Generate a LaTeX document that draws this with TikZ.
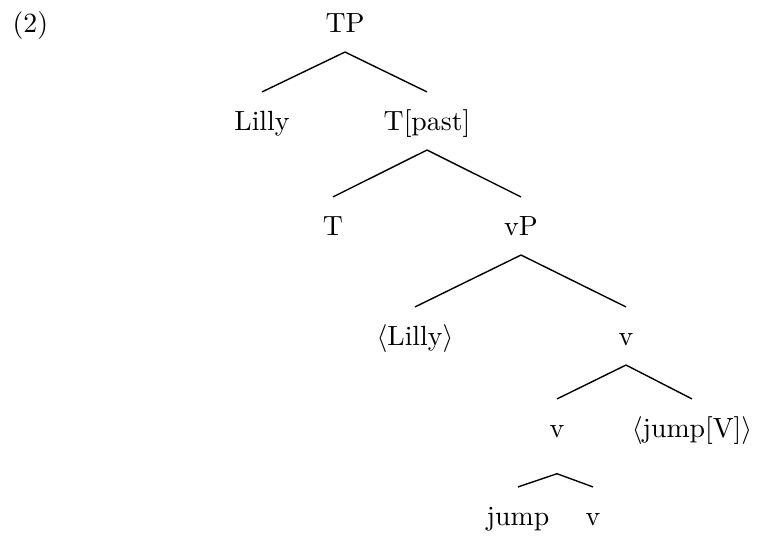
\documentclass[tikz,border=0pt]{standalone}
\begin{document}
\begin{tikzpicture}[x=0.35971pt,y=-0.35971pt,
  lab/.style={anchor=base,inner sep=4pt,text height=9.5pt,text depth=3pt},
  edge/.style={draw=black,line width=0.5pt}]
\path[use as bounding box] (0,0) rectangle (757,535);
\node[anchor=base west,inner sep=0pt] (ex) at (12,32) {(2)};
\node[lab] (tp) at (345,32) {TP};
\node[lab] (lilly) at (262,130) {Lilly};
\node[lab] (tpast) at (427,130) {T[past]};
\node[lab] (t) at (333,235) {T};
\node[lab] (vp) at (521,235) {vP};
\node[lab] (lillyt) at (415,345) {$\langle$Lilly$\rangle$};
\node[lab] (vbar) at (626,345) {v};
\node[lab,text depth=9pt] (v) at (557,437) {v};
\node[lab] (jumpt) at (692,437) {$\langle$jump[V]$\rangle$};
\node[lab] (jump) at (518,525) {jump};
\node[lab] (vaff) at (593,525) {v};
\draw[edge] (lilly.north) -- (tp.south) -- (tpast.north);
\draw[edge] (t.north) -- (tpast.south) -- (vp.north);
\draw[edge] (lillyt.north) -- (vp.south) -- (vbar.north);
\draw[edge] (v.north) -- (vbar.south) -- (jumpt.north);
\draw[edge] (jump.north) -- (v.south) -- (vaff.north);
\end{tikzpicture}
\end{document}
